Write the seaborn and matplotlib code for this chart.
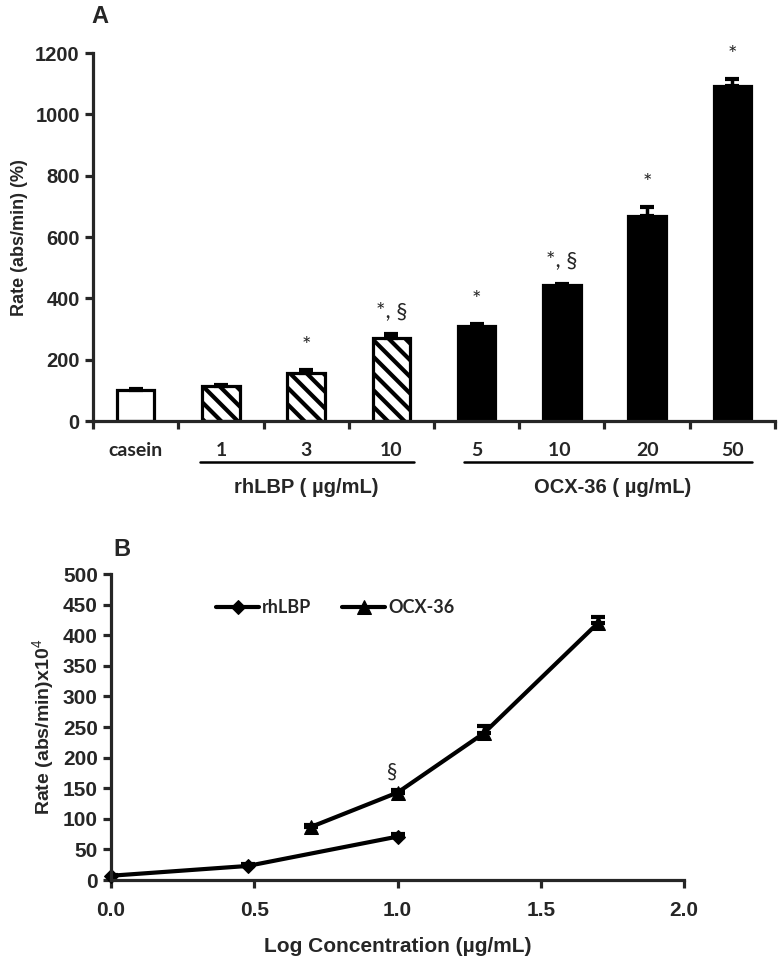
import numpy as np
import pandas as pd
import seaborn as sns
import matplotlib.pyplot as plt
from matplotlib.ticker import MultipleLocator

sns.set_style("ticks")
plt.rcParams['font.family'] = ['Liberation Sans', 'DejaVu Sans']
plt.rcParams['mathtext.fontset'] = 'custom'
plt.rcParams['mathtext.rm'] = 'Liberation Sans'
plt.rcParams['hatch.linewidth'] = 3.0

# panel A data
cats = ["casein", "1", "3", "10", "5", "10 ", "20", "50"]
groups = ["casein", "rhLBP", "rhLBP", "rhLBP", "OCX", "OCX", "OCX", "OCX"]
rate_pct = [100, 113, 157, 270, 310, 443, 668, 1092]
err_pct = [3, 6, 10, 13, 7, 5, 30, 25]
marks = ["", "", "*", "*, §", "*", "*, §", "*", "*"]

# panel B data
logc_lbp = [0.0, 0.477, 1.0]
rate_lbp = [7, 23, 71]
err_lbp = [2, 3, 4]
logc_ocx = [0.699, 1.0, 1.301, 1.699]
rate_ocx = [87, 143, 240, 420]
err_ocx = [3, 4, 11, 10]

dfA = pd.DataFrame({"cat": cats, "rate": rate_pct, "group": groups})
dfB = pd.concat([
    pd.DataFrame({"protein": "rhLBP", "logc": logc_lbp, "rate": rate_lbp, "err": err_lbp}),
    pd.DataFrame({"protein": "OCX-36", "logc": logc_ocx, "rate": rate_ocx, "err": err_ocx}),
])

fig = plt.figure(figsize=(7.82, 9.58), dpi=100)
axA = fig.add_axes([0.119, 0.5605, 0.872, 0.384])
axB = fig.add_axes([0.142, 0.0814, 0.733, 0.3194])

lw = 2.3
calib = ['Lato', 'DejaVu Sans']

# ---- A ----
sns.barplot(data=dfA, x="cat", y="rate", ax=axA, width=0.44, errorbar=None,
            color="white", edgecolor="black", linewidth=lw)
for p, g in zip(axA.patches, groups):
    if g == "rhLBP":
        p.set_facecolor("white")
        p.set_hatch("\\\\")
    elif g == "OCX":
        p.set_facecolor("black")
xs = np.arange(len(cats))
axA.errorbar(xs, rate_pct, yerr=[np.zeros(len(cats)), err_pct], fmt="none",
             ecolor="black", elinewidth=2.5, capsize=5, capthick=3, zorder=1)
for x, v, e, m in zip(xs, rate_pct, err_pct, marks):
    if m:
        axA.annotate(m, (x, v + e), xytext=(0, 17), textcoords="offset points",
                     ha="center", va="center", fontsize=16, family=calib)

axA.set_xlim(-0.5, 7.5)
axA.set_ylim(0, 1200)
axA.yaxis.set_major_locator(MultipleLocator(200))
axA.set_xticks(xs)
axA.set_xticklabels(cats, fontsize=14, fontweight="bold", family=calib)
axA.set_xticks(np.arange(-0.5, 8, 1), minor=True)
axA.tick_params(axis="x", which="major", length=0, pad=15)
axA.tick_params(axis="x", which="minor", length=6, width=lw, direction="out")
axA.tick_params(axis="y", length=6, width=lw, direction="out", labelsize=14.5)
for t in axA.get_yticklabels():
    t.set_fontweight("bold")
axA.set_xlabel("")
axA.set_ylabel("Rate (abs/min) (%)", fontsize=13, fontweight="bold", labelpad=5)
sns.despine(ax=axA)
for s in ["left", "bottom"]:
    axA.spines[s].set_linewidth(lw)

tr = axA.get_xaxis_transform()
axA.plot([0.76, 3.26], [-0.11, -0.11], transform=tr, color="black", lw=1.8, clip_on=False)
axA.plot([3.85, 7.23], [-0.11, -0.11], transform=tr, color="black", lw=1.8, clip_on=False)
axA.text(2.0, -0.18, "rhLBP ( µg/mL)", transform=tr, ha="center", va="center",
         fontsize=14.5, fontweight="bold")
axA.text(5.6, -0.18, "OCX-36 ( µg/mL)", transform=tr, ha="center", va="center",
         fontsize=14.5, fontweight="bold")
fig.text(0.128, 0.983, "A", fontsize=17, fontweight="bold", ha="center", va="center")

# ---- B ----
sns.lineplot(data=dfB, x="logc", y="rate", style="protein",
             markers={"rhLBP": "D", "OCX-36": "^"}, dashes=False, color="black",
             lw=3, markeredgecolor="black", ax=axB, legend=False, clip_on=False)
axB.lines[0].set_markersize(7)
axB.lines[1].set_markersize(10)
handles = list(axB.lines[:2])
for name, d in dfB.groupby("protein", sort=False):
    axB.errorbar(d["logc"], d["rate"], yerr=[np.zeros(len(d)), d["err"]], fmt="none",
                 ecolor="black", elinewidth=2.5, capsize=5, capthick=3, zorder=1)
axB.annotate("§", (1.0, rate_ocx[1]), xytext=(-4, 15), textcoords="offset points",
             ha="center", va="center", fontsize=15, family=calib)

axB.set_xlim(0, 2.0)
axB.set_ylim(0, 500)
axB.xaxis.set_major_locator(MultipleLocator(0.5))
axB.yaxis.set_major_locator(MultipleLocator(50))
axB.xaxis.set_major_formatter(plt.FormatStrFormatter("%.1f"))
axB.tick_params(length=6, width=lw, direction="out", labelsize=15)
axB.tick_params(axis="x", pad=9)
for t in axB.get_xticklabels() + axB.get_yticklabels():
    t.set_fontweight("bold")
axB.set_xlabel("Log Concentration (µg/mL)", fontsize=15, fontweight="bold", labelpad=12)
axB.set_ylabel("Rate (abs/min)x10$^{\\mathrm{4}}$", fontsize=14, fontweight="bold", labelpad=4)
sns.despine(ax=axB)
for s in ["left", "bottom"]:
    axB.spines[s].set_linewidth(lw)
leg = axB.legend(handles, ["rhLBP", "OCX-36"], ncol=2, frameon=False,
                 loc="center left", bbox_to_anchor=(0.155, 0.89), handlelength=2.4,
                 handletextpad=0.15, columnspacing=1.7,
                 prop={"family": calib, "weight": "bold", "size": 13})
fig.text(0.156, 0.426, "B", fontsize=17, fontweight="bold", ha="center", va="center")

fig.savefig("out.png", dpi=100)
